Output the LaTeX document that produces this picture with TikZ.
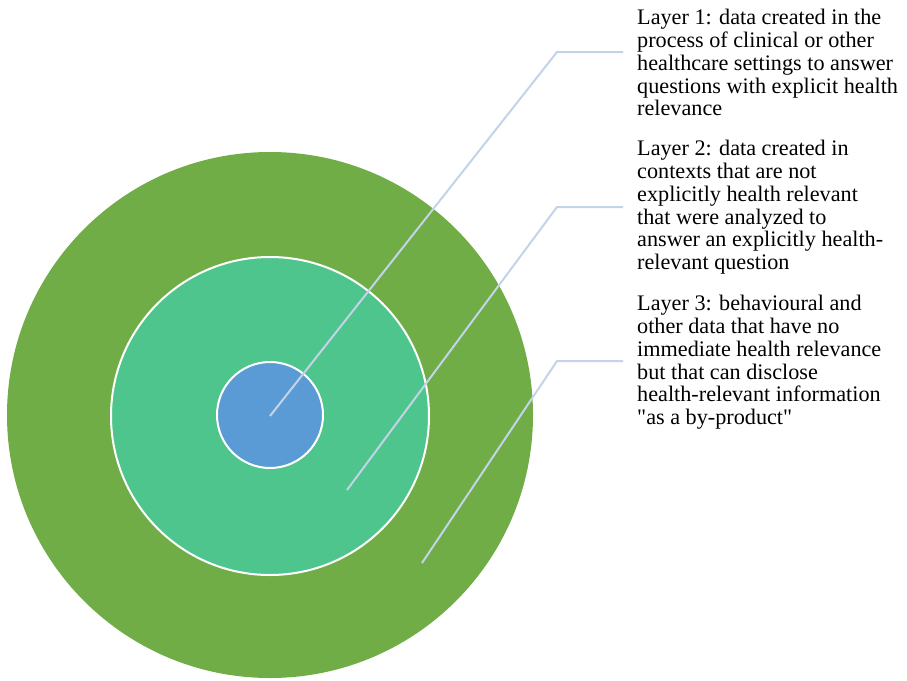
\documentclass[tikz,border=0pt]{standalone}
\usepackage{fontspec}
\setmainfont{Liberation Serif}[Ligatures=TeXOff]
\definecolor{outerc}{HTML}{70AD47}
\definecolor{midc}{HTML}{4EC58D}
\definecolor{innerc}{HTML}{5B9BD5}
\definecolor{leadc}{HTML}{C3D3E8}
\begin{document}
\begin{tikzpicture}[x=1pt,y=-1pt,
  ring/.style={circle,inner sep=0pt,outer sep=0pt},
  leader/.style={draw=leadc,line width=2pt},
  label/.style={anchor=north west,inner sep=0pt,align=left,font=\fontsize{22.2}{22.8}\selectfont}]
\useasboundingbox (0,0) rectangle (907,680);
\node[ring,fill=outerc,minimum size=526pt] (outer) at (270,415) {};
\node[ring,fill=midc,draw=white,line width=2pt,minimum size=318pt] (mid) at (270,416) {};
\node[ring,fill=innerc,draw=white,line width=2pt,minimum size=106pt] (inner) at (270,415) {};
\node[label] (t1) at (637,9) {Layer 1: data created in the\\process of clinical or other\\healthcare settings to answer\\questions with explicit health\\relevance};
\node[label] (t2) at (637,140) {Layer 2: data created in\\contexts that are not\\explicitly health relevant\\that were analyzed to\\answer an explicitly health-\\relevant question};
\node[label] (t3) at (637,295) {Layer 3: behavioural and\\other data that have no\\immediate health relevance\\but that can disclose\\health-relevant information\\"as a by-product"};
\coordinate (p1) at (270,416);
\coordinate (k1) at (557,52);
\coordinate (e1) at (623,52);
\coordinate (p2) at (347,490);
\coordinate (k2) at (557,207);
\coordinate (e2) at (623,207);
\coordinate (p3) at (422,563);
\coordinate (k3) at (557,361);
\coordinate (e3) at (623,361);
\draw[leader] (p1) -- (k1) -- (e1);
\draw[leader] (p2) -- (k2) -- (e2);
\draw[leader] (p3) -- (k3) -- (e3);
\end{tikzpicture}
\end{document}
